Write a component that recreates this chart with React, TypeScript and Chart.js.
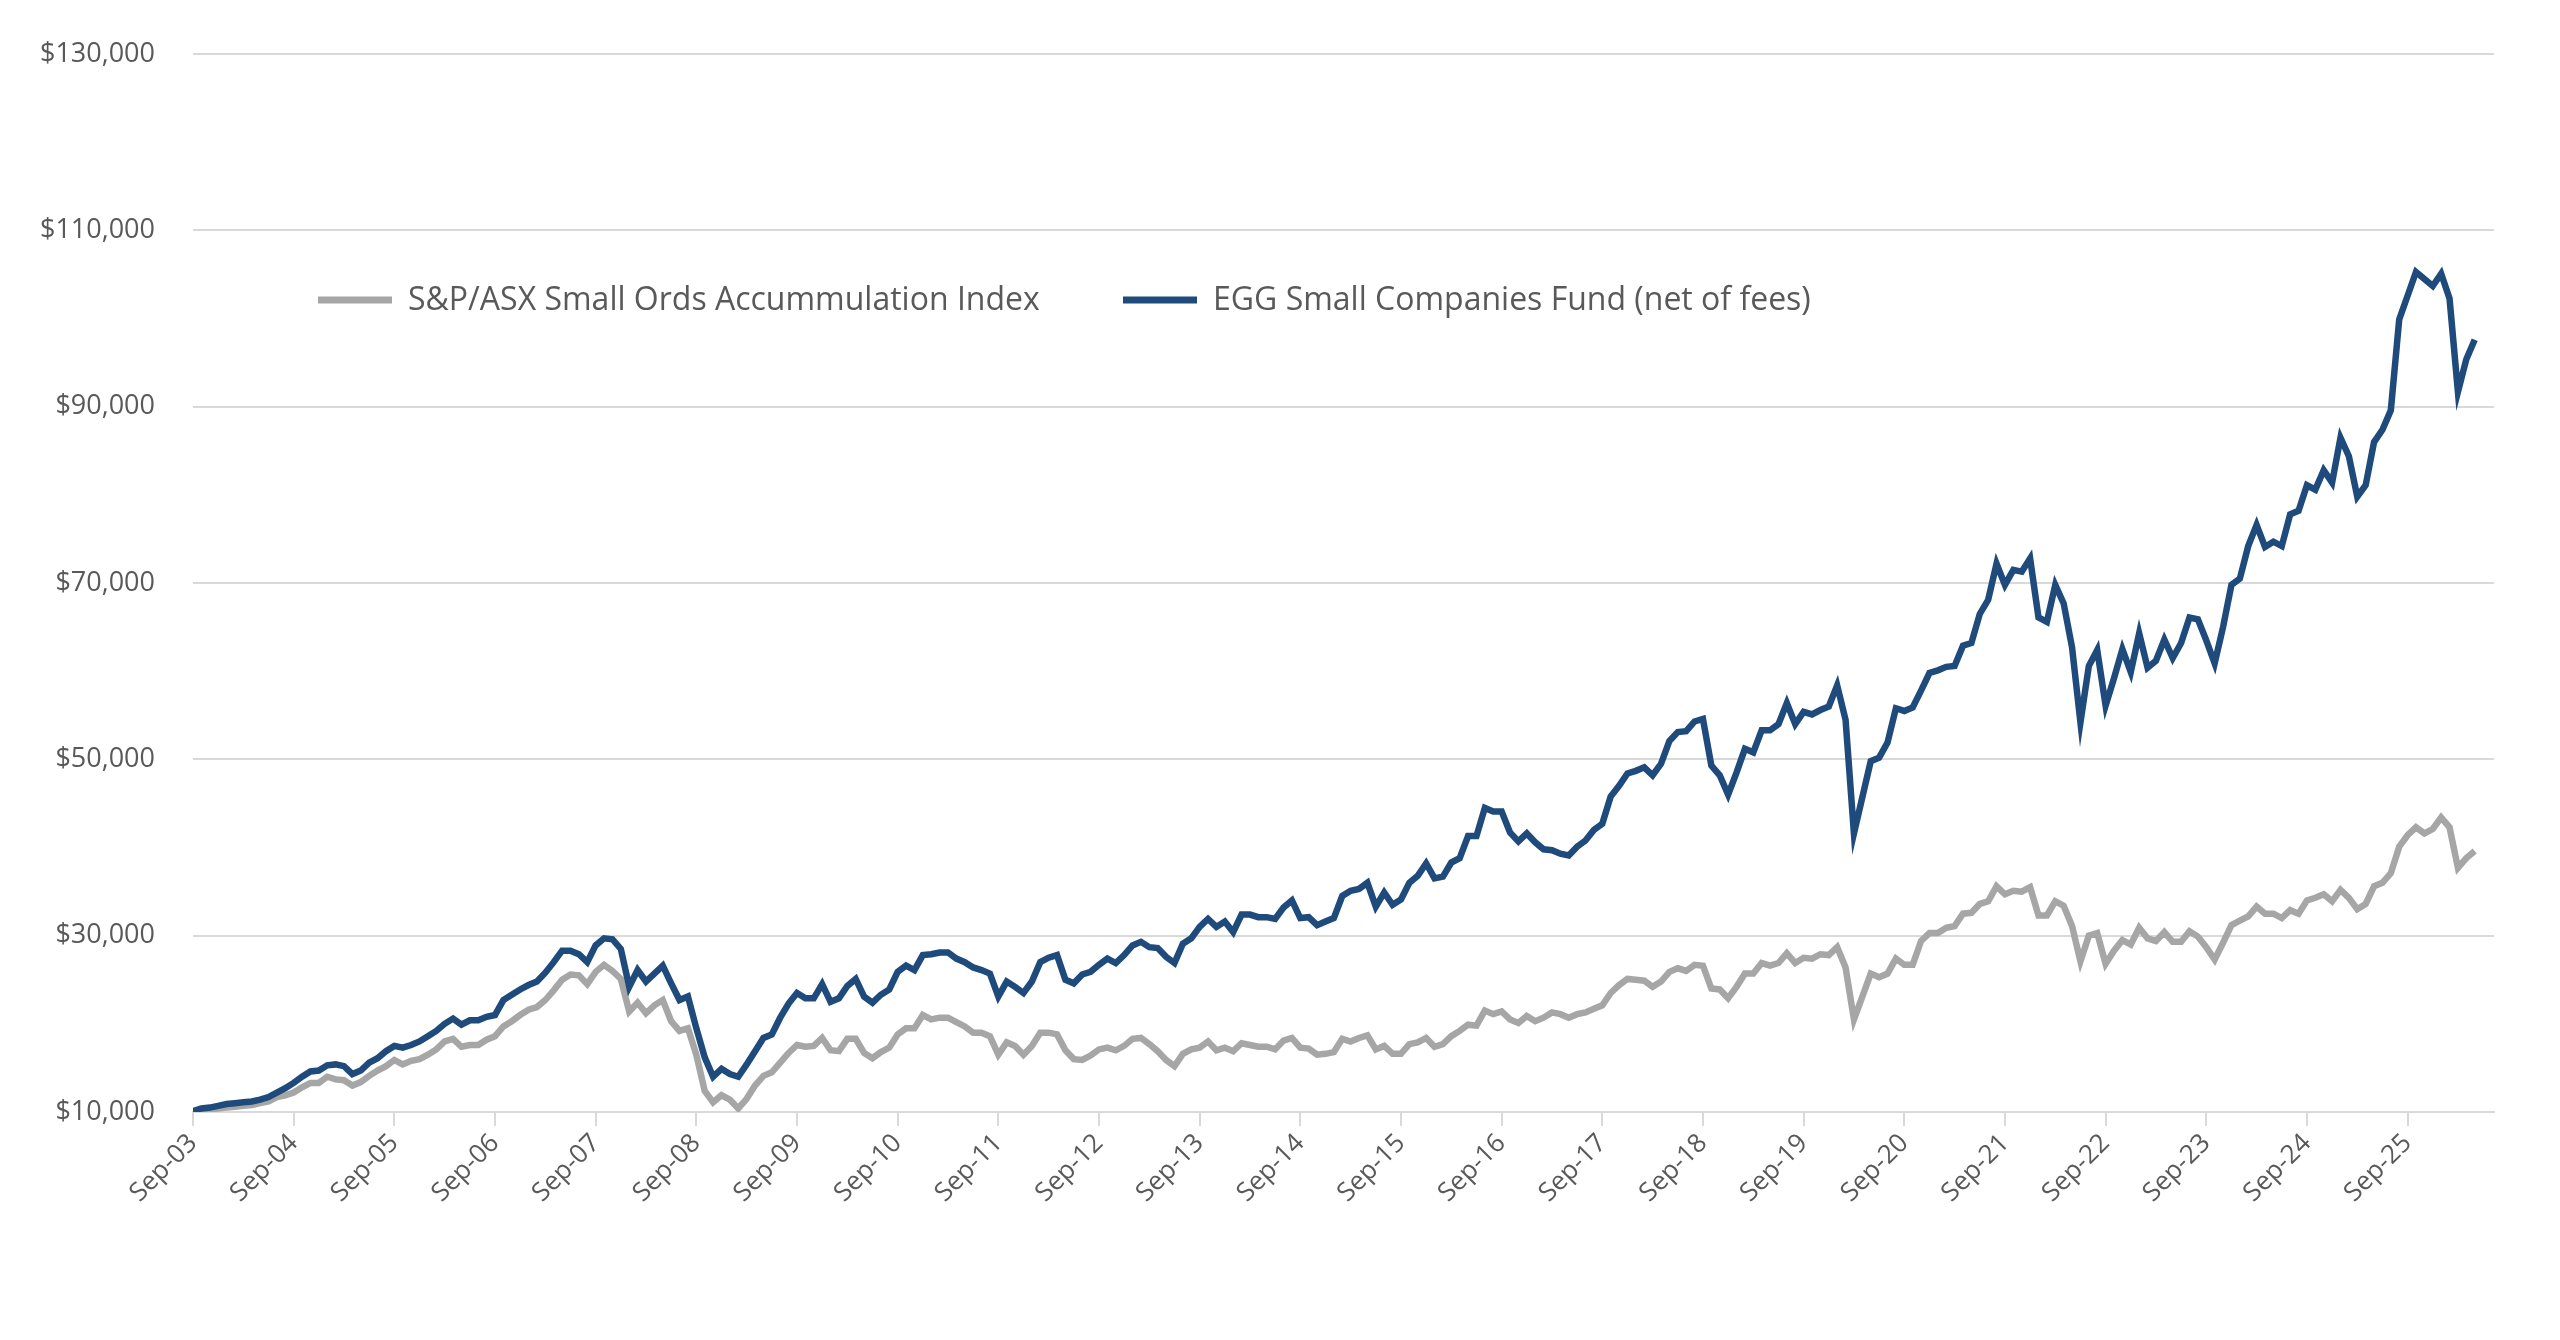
import React, { useEffect, useRef } from "react";
import { Chart, registerables } from "chart.js";
Chart.register(...registerables);

// Values in $ thousands, monthly from Sep-03 to May-26
const fundK = [
  10.1,10.4,10.5,10.7,10.9,11.0,11.1,11.2,11.4,11.7,12.2,12.7,
  13.3,14.0,14.6,14.7,15.3,15.4,15.2,14.3,14.7,15.6,16.1,16.9,
  17.5,17.3,17.6,18.0,18.6,19.2,20.0,20.6,19.9,20.4,20.4,20.8,
  21.0,22.7,23.3,23.9,24.4,24.8,25.8,27.0,28.3,28.3,27.9,27.0,
  28.9,29.7,29.6,28.5,24.2,26.1,24.8,25.7,26.6,24.6,22.7,23.1,
  19.5,16.2,14.0,14.9,14.3,14.0,15.4,16.9,18.4,18.8,20.7,22.3,
  23.5,22.9,22.9,24.5,22.5,22.9,24.3,25.1,23.1,22.4,23.3,23.9,
  25.9,26.6,26.1,27.8,27.9,28.1,28.1,27.4,27.0,26.4,26.1,25.7,
  23.1,24.8,24.2,23.5,24.8,27.0,27.5,27.8,25.0,24.6,25.6,25.9,
  26.7,27.4,26.9,27.8,28.9,29.3,28.7,28.6,27.6,26.9,29.1,29.7,
  31.0,31.9,31.0,31.6,30.4,32.4,32.4,32.1,32.1,31.9,33.2,34.0,
  32.0,32.1,31.2,31.6,32.0,34.5,35.1,35.3,36.0,33.3,34.9,33.5,
  34.1,36.0,36.8,38.2,36.5,36.7,38.3,38.8,41.3,41.3,44.5,44.1,
  44.1,41.7,40.7,41.6,40.6,39.8,39.7,39.3,39.1,40.1,40.8,42.0,
  42.7,45.8,47.0,48.4,48.7,49.1,48.2,49.5,52.1,53.1,53.2,54.3,
  54.6,49.3,48.2,46.0,48.5,51.2,50.8,53.3,53.3,54.0,56.4,54.0,
  55.4,55.1,55.6,56.0,58.4,54.5,41.6,45.7,49.8,50.2,51.9,55.8,
  55.5,55.9,57.8,59.8,60.1,60.5,60.6,62.9,63.2,66.5,68.1,72.2,
  69.8,71.5,71.3,72.8,66.1,65.6,69.8,67.7,62.7,54.2,60.6,62.4,
  56.1,59.2,62.5,59.9,64.3,60.4,61.2,63.6,61.5,63.2,66.1,65.9,
  63.5,60.9,65.0,69.8,70.5,74.2,76.6,74.1,74.7,74.2,77.8,78.2,
  81.1,80.6,82.8,81.4,86.5,84.4,79.8,81.1,86.0,87.4,89.6,99.9,
  102.6,105.3,104.5,103.7,105.1,102.3,91.7,95.4,97.6,
];

const indexK = [
  10.0,10.2,10.3,10.4,10.5,10.6,10.7,10.8,11.0,11.2,11.7,11.9,
  12.2,12.8,13.3,13.3,14.0,13.7,13.6,13.0,13.4,14.1,14.7,15.2,
  15.9,15.4,15.8,16.0,16.5,17.1,18.0,18.3,17.4,17.6,17.6,18.2,
  18.6,19.7,20.3,21.0,21.6,21.9,22.7,23.8,25.0,25.6,25.5,24.5,
  25.9,26.7,26.0,25.1,21.4,22.4,21.2,22.1,22.7,20.3,19.2,19.5,
  16.5,12.4,11.1,11.9,11.4,10.4,11.5,13.0,14.1,14.5,15.6,16.7,
  17.6,17.4,17.5,18.4,17.0,16.9,18.3,18.3,16.7,16.1,16.8,17.3,
  18.8,19.5,19.5,21.0,20.5,20.7,20.7,20.2,19.7,19.0,19.0,18.6,
  16.5,17.9,17.5,16.5,17.5,19.0,19.0,18.8,17.0,16.0,15.9,16.4,
  17.1,17.3,17.0,17.5,18.3,18.4,17.7,16.9,15.9,15.2,16.6,17.1,
  17.3,18.0,17.0,17.3,16.9,17.8,17.6,17.4,17.4,17.1,18.1,18.4,
  17.3,17.2,16.5,16.6,16.8,18.3,18.0,18.4,18.7,17.1,17.5,16.6,
  16.6,17.7,17.9,18.4,17.4,17.7,18.6,19.2,19.9,19.8,21.5,21.1,
  21.4,20.5,20.1,20.9,20.3,20.7,21.3,21.1,20.7,21.1,21.3,21.7,
  22.1,23.5,24.4,25.1,25.0,24.9,24.2,24.8,25.9,26.3,26.0,26.7,
  26.6,24.0,23.9,22.9,24.2,25.7,25.7,26.9,26.6,26.9,28.0,26.9,
  27.5,27.4,27.9,27.8,28.7,26.4,20.5,23.1,25.7,25.3,25.7,27.4,
  26.7,26.7,29.4,30.3,30.3,30.9,31.1,32.5,32.6,33.6,33.9,35.6,
  34.7,35.1,35.0,35.5,32.3,32.3,33.9,33.4,31.1,27.1,30.0,30.3,
  26.8,28.3,29.5,29.0,30.9,29.7,29.4,30.4,29.3,29.3,30.5,29.9,
  28.7,27.3,29.2,31.2,31.7,32.2,33.3,32.5,32.5,32.0,32.9,32.5,
  34.0,34.3,34.7,33.9,35.2,34.3,33.0,33.6,35.6,36.0,37.1,40.1,
  41.4,42.3,41.6,42.1,43.4,42.3,37.7,38.8,39.6,
];

const yearLabels = ["03","04","05","06","07","08","09","10","11","12","13","14","15","16","17","18","19","20","21","22","23","24","25"];
const tickLabels = yearLabels.map((y) => "Sep-" + y);

const seriesNames = ["S&P/ASX Small Ords Accummulation Index", "EGG Small Companies Fund (net of fees)"];
const GREY = "#A6A6A6";
const BLUE = "#1F4A7C";
const TEXT = "#595959";
const FONT = "'Open Sans', 'Liberation Sans', sans-serif";

const legendPlugin = {
  id: "inlineLegend",
  afterDraw(chart: any) {
    const ctx = chart.ctx;
    const items = [
      { name: seriesNames[0], color: GREY, x: 318 },
      { name: seriesNames[1], color: BLUE, x: 1123 },
    ];
    const y = 300;
    ctx.save();
    ctx.font = `32px ${FONT}`;
    ctx.textBaseline = "middle";
    ctx.fillStyle = TEXT;
    for (const it of items) {
      ctx.strokeStyle = it.color;
      ctx.lineWidth = 7;
      ctx.beginPath();
      ctx.moveTo(it.x, y);
      ctx.lineTo(it.x + 74, y);
      ctx.stroke();
      ctx.fillText(it.name, it.x + 90, y + 1);
    }
    ctx.restore();
  },
};

export default function App() {
  const ref = useRef<HTMLCanvasElement>(null);
  useEffect(() => {
    const toPts = (arr: number[]) => arr.map((v, i) => ({ x: i, y: v * 1000 }));
    const chart = new Chart(ref.current!, {
      type: "line",
      data: {
        datasets: [
          { label: seriesNames[1], data: toPts(fundK), borderColor: BLUE, borderWidth: 6.5, pointRadius: 0, tension: 0 },
          { label: seriesNames[0], data: toPts(indexK), borderColor: GREY, borderWidth: 6.5, pointRadius: 0, tension: 0 },
        ],
      },
      options: {
        animation: false,
        responsive: false,
        maintainAspectRatio: false,
        layout: { padding: { top: 39, right: 66, left: 0, bottom: 0 } },
        plugins: { legend: { display: false }, tooltip: { enabled: false } },
        scales: {
          x: {
            type: "linear",
            min: 0,
            max: 274.3,
            afterFit: (s: any) => { s.height = 228; },
            grid: { drawOnChartArea: false, drawTicks: true, tickLength: 14, color: "#D9D9D9", lineWidth: 2 },
            border: { color: "#D9D9D9", width: 2 },
            ticks: {
              stepSize: 12,
              includeBounds: false,
              autoSkip: false,
              maxRotation: 45,
              minRotation: 45,
              color: TEXT,
              font: { family: FONT, size: 26 },
              padding: 2,
              callback: (v: any) => (v % 12 === 0 ? tickLabels[v / 12] ?? "" : ""),
            },
          },
          y: {
            min: 10000,
            max: 130000,
            afterFit: (s: any) => { s.width = 193; },
            grid: { color: "#D9D9D9", lineWidth: 2, drawTicks: false },
            border: { display: false },
            ticks: {
              stepSize: 20000,
              color: TEXT,
              font: { family: FONT, size: 27 },
              padding: 38,
              callback: (v: any) => "$" + Number(v).toLocaleString("en-US"),
            },
          },
        },
      },
      plugins: [legendPlugin],
    });
    return () => chart.destroy();
  }, []);
  return (
    <div style={{ position: "absolute", left: 0, top: 0, width: 2560, height: 1340, background: "#fff" }}>
      <canvas ref={ref} width={2560} height={1340} style={{ width: 2560, height: 1340 }} />
    </div>
  );
}
